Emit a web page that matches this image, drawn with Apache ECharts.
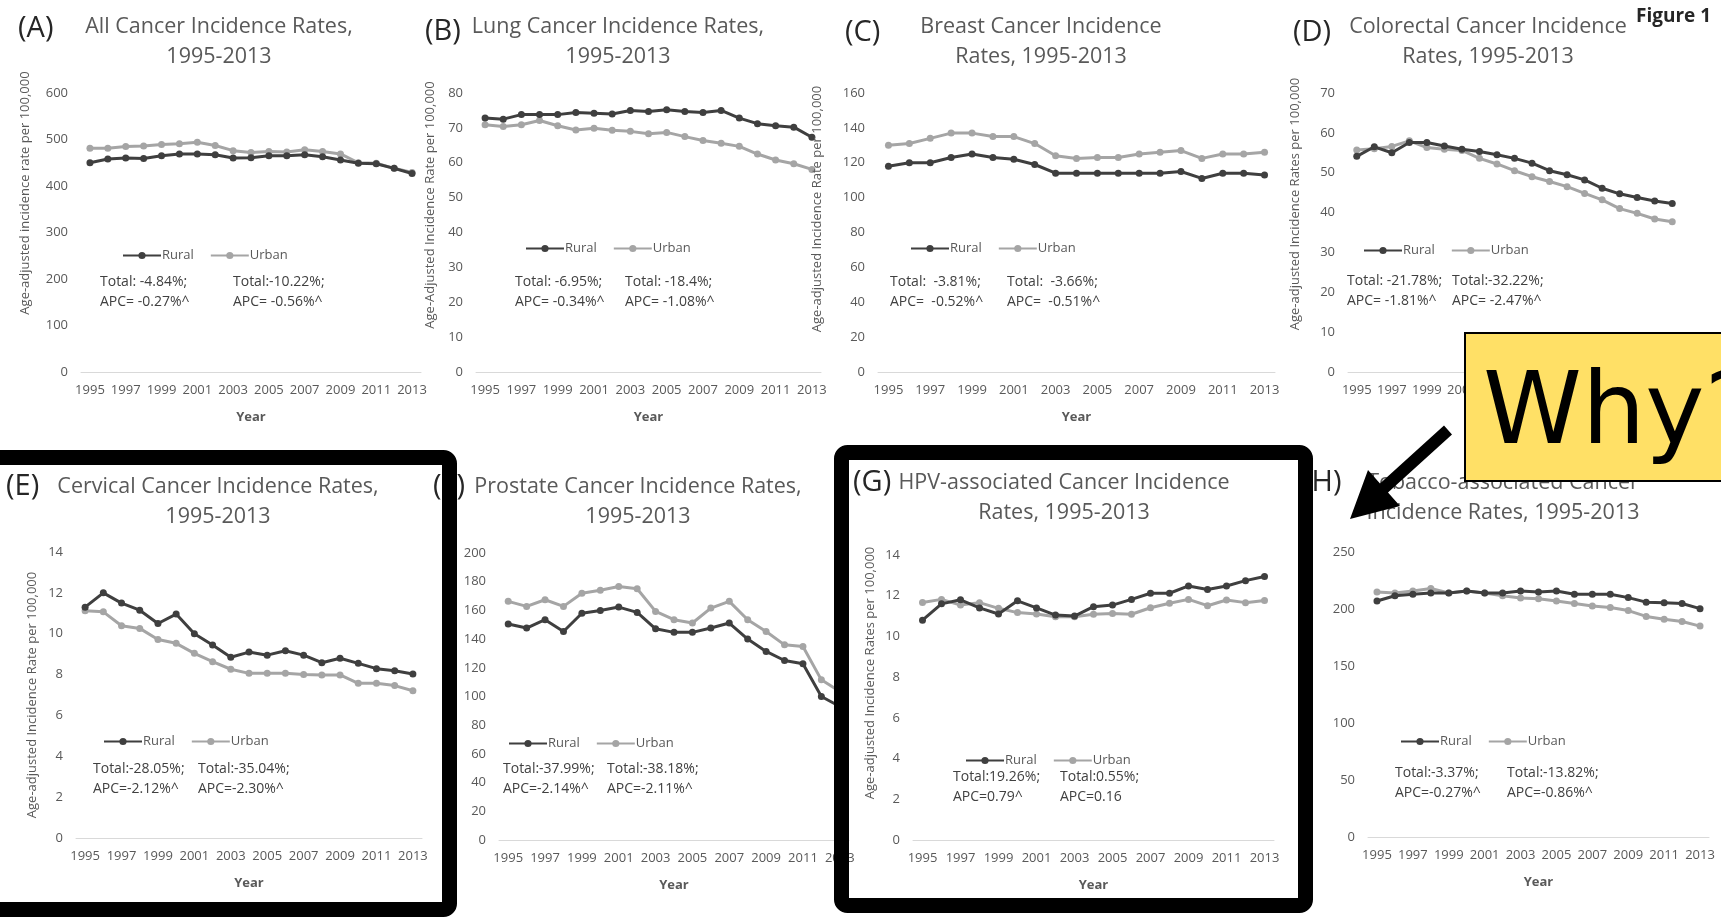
<!DOCTYPE html>
<html>
<head>
<meta charset="utf-8">
<title>Figure 1</title>
<script src="https://cdn.jsdelivr.net/npm/echarts@6/dist/echarts.min.js"></script>
<style>
  html, body { margin: 0; padding: 0; background: #fff; }
  #chart { width: 1721px; height: 918px; }
</style>
</head>
<body>
<div id="chart"></div>
<script>
const years = ['1995', '1996', '1997', '1998', '1999', '2000', '2001', '2002', '2003', '2004',
  '2005', '2006', '2007', '2008', '2009', '2010', '2011', '2012', '2013']

// (A) all cancer
const allRural = [450, 458, 460, 459, 465, 469, 469, 467, 460, 461, 465, 465, 467, 463, 456, 449, 448, 438, 427]
const allUrban = [481, 481, 485, 486, 489, 491, 494, 487, 476, 472, 474, 473, 478, 474, 469, 450, 449, 438, 429]
// (B) lung
const lungRural = [72.8, 72.5, 73.8, 73.8, 73.8, 74.4, 74.2, 74.0, 75, 74.7, 75.2, 74.7, 74.4, 75, 72.8, 71.2, 70.6, 70.2, 67.3]
const lungUrban = [70.9, 70.4, 70.9, 72.1, 70.6, 69.4, 69.9, 69.3, 69, 68.3, 68.7, 67.5, 66.4, 65.6, 64.7, 62.5, 60.8, 59.7, 58.1]
// (C) breast
const breastRural = [118, 120, 120, 123, 125, 123, 122, 119, 114, 114, 114, 114, 114, 114, 115, 111, 114, 114, 113]
const breastUrban = [130, 131, 134, 137, 137, 135, 135, 131, 124, 122.5, 123, 123, 125, 126, 127, 122.5, 125, 125, 126]
// (D) colorectal
const colorectalRural = [54.1, 56.5, 55, 57.6, 57.6, 56.7, 55.9, 55.3, 54.5, 53.6, 52.4, 50.5, 49.5, 48.2, 46.1, 44.7, 43.8, 42.9, 42.3]
const colorectalUrban = [55.7, 56, 56.6, 58, 56.3, 55.9, 55.6, 53.6, 52.2, 50.5, 49, 47.8, 46.5, 44.8, 43.2, 41, 39.8, 38.4, 37.7]
// (E) cervical
const cervicalRural = [11.3, 12.0, 11.5, 11.15, 10.5, 10.96, 10.0, 9.45, 8.85, 9.1, 8.95, 9.17, 8.95, 8.58, 8.8, 8.55, 8.29, 8.19, 8.03]
const cervicalUrban = [11.12, 11.07, 10.39, 10.26, 9.72, 9.53, 9.04, 8.63, 8.26, 8.06, 8.06, 8.06, 8.0, 7.98, 7.98, 7.57, 7.57, 7.46, 7.21]
// (F) prostate
const prostateRural = [150.5, 147.7, 153.5, 145.3, 158, 160, 162.3, 158.6, 147.2, 144.7, 144.7, 147.7, 151.2, 140, 131.4, 125.1, 122.8, 100, 93]
const prostateUrban = [166.3, 162.8, 167.4, 162.8, 172, 174, 176.7, 175.1, 159.3, 153.5, 151.2, 161.6, 166.3, 153.5, 145.3, 136, 134.9, 111.6, 103.5]
// (G) HPV-associated
const hpvRural = [10.8, 11.6, 11.8, 11.4, 11.1, 11.75, 11.4, 11.05, 11.0, 11.46, 11.54, 11.82, 12.12, 12.12, 12.48, 12.31, 12.48, 12.74, 12.94]
const hpvUrban = [11.67, 11.82, 11.54, 11.66, 11.38, 11.17, 11.1, 10.97, 10.97, 11.09, 11.13, 11.09, 11.41, 11.63, 11.82, 11.51, 11.79, 11.66, 11.76]
// (H) tobacco-associated
const tobaccoRural = [207, 211.6, 213, 214, 214, 215.8, 214, 214, 215.8, 215, 215.8, 213, 213, 213, 210, 206, 205.5, 204.8, 200.3]
const tobaccoUrban = [215, 214, 215.8, 218, 214, 215.8, 214, 211.6, 209.6, 209, 207, 204.8, 202.7, 201.4, 198.6, 193.5, 191, 189, 185]

const ruralSeries = [allRural, lungRural, breastRural, colorectalRural, cervicalRural, prostateRural, hpvRural, tobaccoRural]
const urbanSeries = [allUrban, lungUrban, breastUrban, colorectalUrban, cervicalUrban, prostateUrban, hpvUrban, tobaccoUrban]

const yMax = [600, 80, 160, 70, 14, 200, 14, 250]
const yStep = [100, 10, 20, 10, 2, 20, 2, 50]

const panelLetters = ['(A)', '(B)', '(C)', '(D)', '(E)', '(F)', '(G)', '(H)']
const panelTitles = [
  'All Cancer Incidence Rates,\n1995-2013',
  'Lung Cancer Incidence Rates,\n1995-2013',
  'Breast Cancer Incidence\nRates, 1995-2013',
  'Colorectal Cancer Incidence\nRates, 1995-2013',
  'Cervical Cancer Incidence Rates,\n1995-2013',
  'Prostate Cancer Incidence Rates,\n1995-2013',
  'HPV-associated Cancer Incidence\nRates, 1995-2013',
  'Tobacco-associated Cancer\nIncidence Rates, 1995-2013'
]
const yNames = [
  'Age-adjusted incidence rate per 100,000',
  'Age-Adjusted Incidence Rate per 100,000',
  'Age-adjusted Incidence Rate per 100,000',
  'Age-adjusted Incidence Rates per 100,000',
  'Age-adjusted Incidence Rate per 100,000',
  '',
  'Age-adjusted Incidence Rates per 100,000',
  ''
]
const ruralNotes = [
  'Total: -4.84%;\nAPC= -0.27%^', 'Total: -6.95%;\nAPC= -0.34%^', 'Total:  -3.81%;\nAPC=  -0.52%^', 'Total: -21.78%;\nAPC= -1.81%^',
  'Total:-28.05%;\nAPC=-2.12%^', 'Total:-37.99%;\nAPC=-2.14%^', 'Total:19.26%;\nAPC=0.79^', 'Total:-3.37%;\nAPC=-0.27%^'
]
const urbanNotes = [
  'Total:-10.22%;\nAPC= -0.56%^', 'Total: -18.4%;\nAPC= -1.08%^', 'Total:  -3.66%;\nAPC=  -0.51%^', 'Total:-32.22%;\nAPC= -2.47%^',
  'Total:-35.04%;\nAPC=-2.30%^', 'Total:-38.18%;\nAPC=-2.11%^', 'Total:0.55%;\nAPC=0.16', 'Total:-13.82%;\nAPC=-0.86%^'
]

// layout of each panel, page pixels
const grids = [
  { left: 81, top: 93, width: 340, height: 279 },
  { left: 476, top: 93, width: 345, height: 279 },
  { left: 878, top: 93, width: 397, height: 279 },
  { left: 1348, top: 93, width: 333, height: 279 },
  { left: 76, top: 552, width: 346, height: 286 },
  { left: 499, top: 553, width: 350, height: 287 },
  { left: 913, top: 555, width: 361, height: 285 },
  { left: 1368, top: 552, width: 341, height: 285 }
]
const letterPos = [[18, 29], [425, 32], [845, 33], [1293, 33], [6, 487], [433, 487], [853, 483], [1303, 483]]
const titlePos = [[219, 12], [618, 12], [1041, 12], [1488, 12], [218, 472], [638, 472], [1064, 468], [1503, 468]]
const yNamePos = [[25, 193], [430, 205], [817, 209], [1295, 204], [32, 695], [0, 0], [870, 673], [0, 0]]
const legendPos = [[122, 249], [525, 242], [910, 242], [1363, 244], [103, 735], [508, 737], [965, 754], [1400, 735]]
const notePos = [
  [[100, 272], [233, 272]], [[515, 272], [625, 272]], [[890, 272], [1007, 272]], [[1347, 271], [1452, 271]],
  [[93, 759], [198, 759]], [[503, 759], [607, 759]], [[953, 767], [1060, 767]], [[1395, 763], [1507, 763]]
]

const FONT = '"Open Sans", Lato, sans-serif'
const GREY = '#595959'
const RURAL = '#3f3f3f'
const URBAN = '#a5a5a5'

const chart = echarts.init(document.getElementById('chart'))

const xAxis = grids.map((g, i) => ({
  type: 'category',
  gridIndex: i,
  data: years,
  boundaryGap: true,
  name: 'Year',
  nameLocation: 'middle',
  nameGap: 39,
  nameTextStyle: { color: GREY, fontSize: 13, fontWeight: 'bold', fontFamily: FONT },
  axisLine: { lineStyle: { color: '#d9d9d9', width: 1 } },
  axisTick: { show: false },
  axisLabel: { interval: 1, color: GREY, fontSize: 13, fontFamily: FONT, margin: 12 }
}))

const yAxis = grids.map((g, i) => ({
  type: 'value',
  gridIndex: i,
  min: 0,
  max: yMax[i],
  interval: yStep[i],
  axisLine: { show: false },
  axisTick: { show: false },
  splitLine: { show: false },
  axisLabel: { color: GREY, fontSize: 13, fontFamily: FONT, margin: 13 }
}))

const series = []
grids.forEach((g, i) => {
  series.push({
    name: 'Rural', type: 'line', xAxisIndex: i, yAxisIndex: i,
    data: ruralSeries[i], symbol: 'circle', symbolSize: 7,
    lineStyle: { color: RURAL, width: 3 }, itemStyle: { color: RURAL }, z: 3
  })
  series.push({
    name: 'Urban', type: 'line', xAxisIndex: i, yAxisIndex: i,
    data: urbanSeries[i], symbol: 'circle', symbolSize: 7,
    lineStyle: { color: URBAN, width: 3 }, itemStyle: { color: URBAN }, z: 2
  })
})

const legend = legendPos.map(p => ({
  left: p[0], top: p[1], padding: 0, itemGap: 16, itemWidth: 38, itemHeight: 9,
  selectedMode: false, data: ['Rural', 'Urban'],
  textStyle: { color: GREY, fontSize: 13, fontFamily: FONT, padding: [0, 0, 0, -4] }
}))

const title = panelTitles.map((t, i) => ({
  text: t, left: titlePos[i][0], top: titlePos[i][1], textAlign: 'center', padding: 0,
  textStyle: { color: GREY, fontSize: 21.5, fontWeight: 'normal', lineHeight: 30, fontFamily: FONT }
}))

const graphic = []
panelLetters.forEach((l, i) => {
  graphic.push({
    type: 'text', x: letterPos[i][0], y: letterPos[i][1], z: 10,
    style: { text: l, fill: '#262626', font: '29px ' + FONT, align: 'left', verticalAlign: 'middle', textAlign: 'left', textVerticalAlign: 'middle' }
  })
})
yNames.forEach((n, i) => {
  if (!n) return
  graphic.push({
    type: 'text', x: yNamePos[i][0], y: yNamePos[i][1], rotation: Math.PI / 2, z: 10,
    style: { text: n, fill: GREY, font: '13px ' + FONT, align: 'center', verticalAlign: 'middle', textAlign: 'center', textVerticalAlign: 'middle' }
  })
})
notePos.forEach((p, i) => {
  [ruralNotes[i], urbanNotes[i]].forEach((txt, k) => {
    graphic.push({
      type: 'text', x: p[k][0], y: p[k][1], z: 10,
      style: { text: txt, fill: '#404040', font: '14px ' + FONT, lineHeight: 20, align: 'left', verticalAlign: 'top', textAlign: 'left', textVerticalAlign: 'top' }
    })
  })
})
graphic.push({
  type: 'text', x: 1636, y: 17, z: 10,
  style: { text: 'Figure 1', fill: '#262626', font: 'bold 19px ' + FONT, align: 'left', verticalAlign: 'middle', textAlign: 'left', textVerticalAlign: 'middle' }
})
// black highlight boxes round (E) and (G)
graphic.push({
  type: 'rect', z: 100,
  shape: { x: -30, y: 457.5, width: 479.5, height: 452, r: 6 },
  style: { fill: 'none', stroke: '#000', lineWidth: 15 }
})
graphic.push({
  type: 'rect', z: 100,
  shape: { x: 841.5, y: 452.5, width: 464, height: 453, r: 6 },
  style: { fill: 'none', stroke: '#000', lineWidth: 15 }
})
// "Why?" call-out and arrow
graphic.push({
  type: 'rect', z: 100,
  shape: { x: 1465, y: 333, width: 300, height: 148 },
  style: { fill: '#ffe066', stroke: '#000', lineWidth: 2 }
})
graphic.push({
  type: 'text', x: 1483, y: 417, z: 101,
  style: { text: 'Why?', fill: '#000', font: '100px "DejaVu Sans"', align: 'left', verticalAlign: 'middle', textAlign: 'left', textVerticalAlign: 'middle' }
})
graphic.push({
  type: 'polygon', z: 101,
  shape: { points: [[1444, 425.5], [1452, 434.5], [1388, 492.5], [1400, 506], [1350, 519], [1368, 470], [1380, 483.5]] },
  style: { fill: '#000' }
})

chart.setOption({
  animation: false,
  backgroundColor: '#fff',
  title: title,
  legend: legend,
  grid: grids,
  xAxis: xAxis,
  yAxis: yAxis,
  series: series,
  graphic: graphic
})
</script>
</body>
</html>
